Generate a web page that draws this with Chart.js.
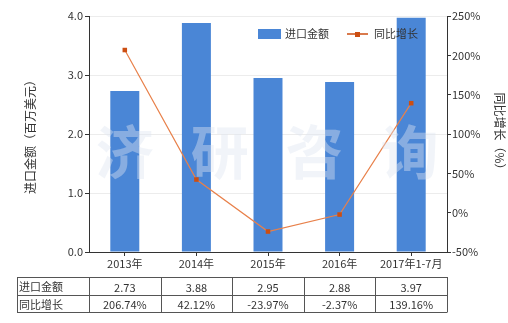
<!DOCTYPE html>
<html><head><meta charset="utf-8">
<script src="https://cdn.jsdelivr.net/npm/chart.js@4"></script>
<style>html,body{margin:0;padding:0;background:#fff}#wrap{width:508px;height:323px;position:relative}</style>
</head><body><div id="wrap"><canvas id="c" width="508" height="323"></canvas></div>
<script>
const categories = ["2013年","2014年","2015年","2016年","2017年1-7月"];
const importValues = [2.73, 3.88, 2.95, 2.88, 3.97];
const growthValues = [206.74, 42.12, -23.97, -2.37, 139.16];
const importLabels = ["2.73","3.88","2.95","2.88","3.97"];
const growthLabels = ["206.74%","42.12%","-23.97%","-2.37%","139.16%"];
const seriesNames = ["进口金额","同比增长"];
const leftTitle = "进口金额（百万美元）";
const rightTitle = "同比增长（%）";
const watermark = ["济","研","咨","询"];

const FONT = "'Noto Sans CJK SC', 'Noto Sans', sans-serif";
const BAR = "#4a86d6";
const LINE = "#e8804a";
const MARK = "#cc4e12";

const extras = {
  id: 'extras',
  afterDatasetsDraw(chart) {
    const ctx = chart.ctx;
    const a = chart.chartArea;
    ctx.save();
    ctx.fillStyle = 'rgba(222,228,240,0.42)';
    ctx.font = "bold 58px " + FONT;
    ctx.textAlign = 'center'; ctx.textBaseline = 'middle';
    watermark.forEach((ch, i) => {
      const x = a.left + (a.right - a.left) * (0.1 + i * 0.265);
      ctx.fillText(ch, x, 152);
    });
    ctx.restore();
  },
  afterDraw(chart) {
    const ctx = chart.ctx;
    const a = chart.chartArea;
    const xs = chart.scales.x;
    ctx.save();
    ctx.font = "11px " + FONT;
    ctx.textBaseline = 'middle';
    ctx.fillStyle = BAR;
    ctx.fillRect(258, 29, 23, 10);
    ctx.fillStyle = '#333';
    ctx.textAlign = 'left';
    ctx.fillText(seriesNames[0], 285, 34);
    ctx.strokeStyle = MARK; ctx.lineWidth = 1.5;
    ctx.beginPath(); ctx.moveTo(347, 34); ctx.lineTo(368, 34); ctx.stroke();
    ctx.fillStyle = MARK; ctx.fillRect(355, 32, 5, 5);
    ctx.fillStyle = '#333';
    ctx.fillText(seriesNames[1], 374, 34);
    const top = 277, mid = 295, bot = 312, left = 17;
    const bounds = [left, a.left];
    for (let i = 0; i < categories.length; i++) {
      bounds.push(a.left + (a.right - a.left) * (i + 1) / categories.length);
    }
    ctx.strokeStyle = '#555'; ctx.lineWidth = 1;
    ctx.beginPath();
    [top, mid, bot].forEach(y => { ctx.moveTo(left, y + 0.5); ctx.lineTo(a.right, y + 0.5); });
    bounds.forEach(x => { const xx = Math.round(x) + 0.5; ctx.moveTo(xx, top); ctx.lineTo(xx, bot + 0.5); });
    ctx.stroke();
    ctx.fillStyle = '#333';
    ctx.font = "11px " + FONT;
    ctx.textAlign = 'left';
    ctx.fillText(seriesNames[0], 19, (top + mid) / 2 + 1);
    ctx.fillText(seriesNames[1], 19, (mid + bot) / 2 + 1);
    ctx.textAlign = 'center';
    for (let i = 0; i < categories.length; i++) {
      const cx = xs.getPixelForValue(i);
      ctx.fillText(importLabels[i], cx, (top + mid) / 2 + 1.5);
      ctx.fillText(growthLabels[i], cx, (mid + bot) / 2 + 1.5);
    }
    ctx.restore();
  }
};

new Chart(document.getElementById('c'), {
  data: {
    labels: categories,
    datasets: [
      { type: 'line', label: seriesNames[1], data: growthValues, yAxisID: 'y1',
        borderColor: LINE, borderWidth: 1.2, backgroundColor: MARK,
        pointStyle: 'rect', pointRadius: 3.2, pointBorderWidth: 0, pointBackgroundColor: MARK,
        tension: 0, order: 0 },
      { type: 'bar', label: seriesNames[0], data: importValues, yAxisID: 'y',
        backgroundColor: BAR, categoryPercentage: 1, barPercentage: 0.405, order: 1 }
    ]
  },
  options: {
    responsive: false, animation: false,
    layout: { padding: { top: 16, left: 0, right: 0, bottom: 0 } },
    plugins: { legend: { display: false }, tooltip: { enabled: false } },
    scales: {
      x: {
        afterFit(s) { s.height = 71; },
        grid: { offset: false, drawOnChartArea: false, drawTicks: true, tickLength: 4, color: '#333' },
        border: { color: '#333', width: 1 },
        ticks: { color: '#333', font: { family: FONT, size: 11 }, padding: 1, maxRotation: 0, autoSkip: false }
      },
      y: {
        position: 'left', min: 0, max: 4,
        afterFit(s) { s.width = 89; },
        ticks: { stepSize: 1, color: '#333', font: { family: FONT, size: 11 }, padding: 2,
          callback: v => v.toFixed(1) },
        grid: { color: '#ececec', tickColor: '#333', tickLength: 4 },
        border: { color: '#333', width: 1 },
        title: { display: true, text: leftTitle, color: '#333', font: { family: FONT, size: 12 }, padding: { top: 23, bottom: 0 } }
      },
      y1: {
        position: 'right', min: -50, max: 250,
        afterFit(s) { s.width = 61; },
        ticks: { stepSize: 50, color: '#333', font: { family: FONT, size: 11 }, padding: 1,
          callback: v => v + '%' },
        grid: { drawOnChartArea: false, tickColor: '#333', tickLength: 4 },
        border: { color: '#333', width: 1 },
        title: { display: true, text: rightTitle, color: '#333', font: { family: FONT, size: 12 }, padding: { top: 1, bottom: 0 } }
      }
    }
  },
  plugins: [extras]
});
</script></body></html>
